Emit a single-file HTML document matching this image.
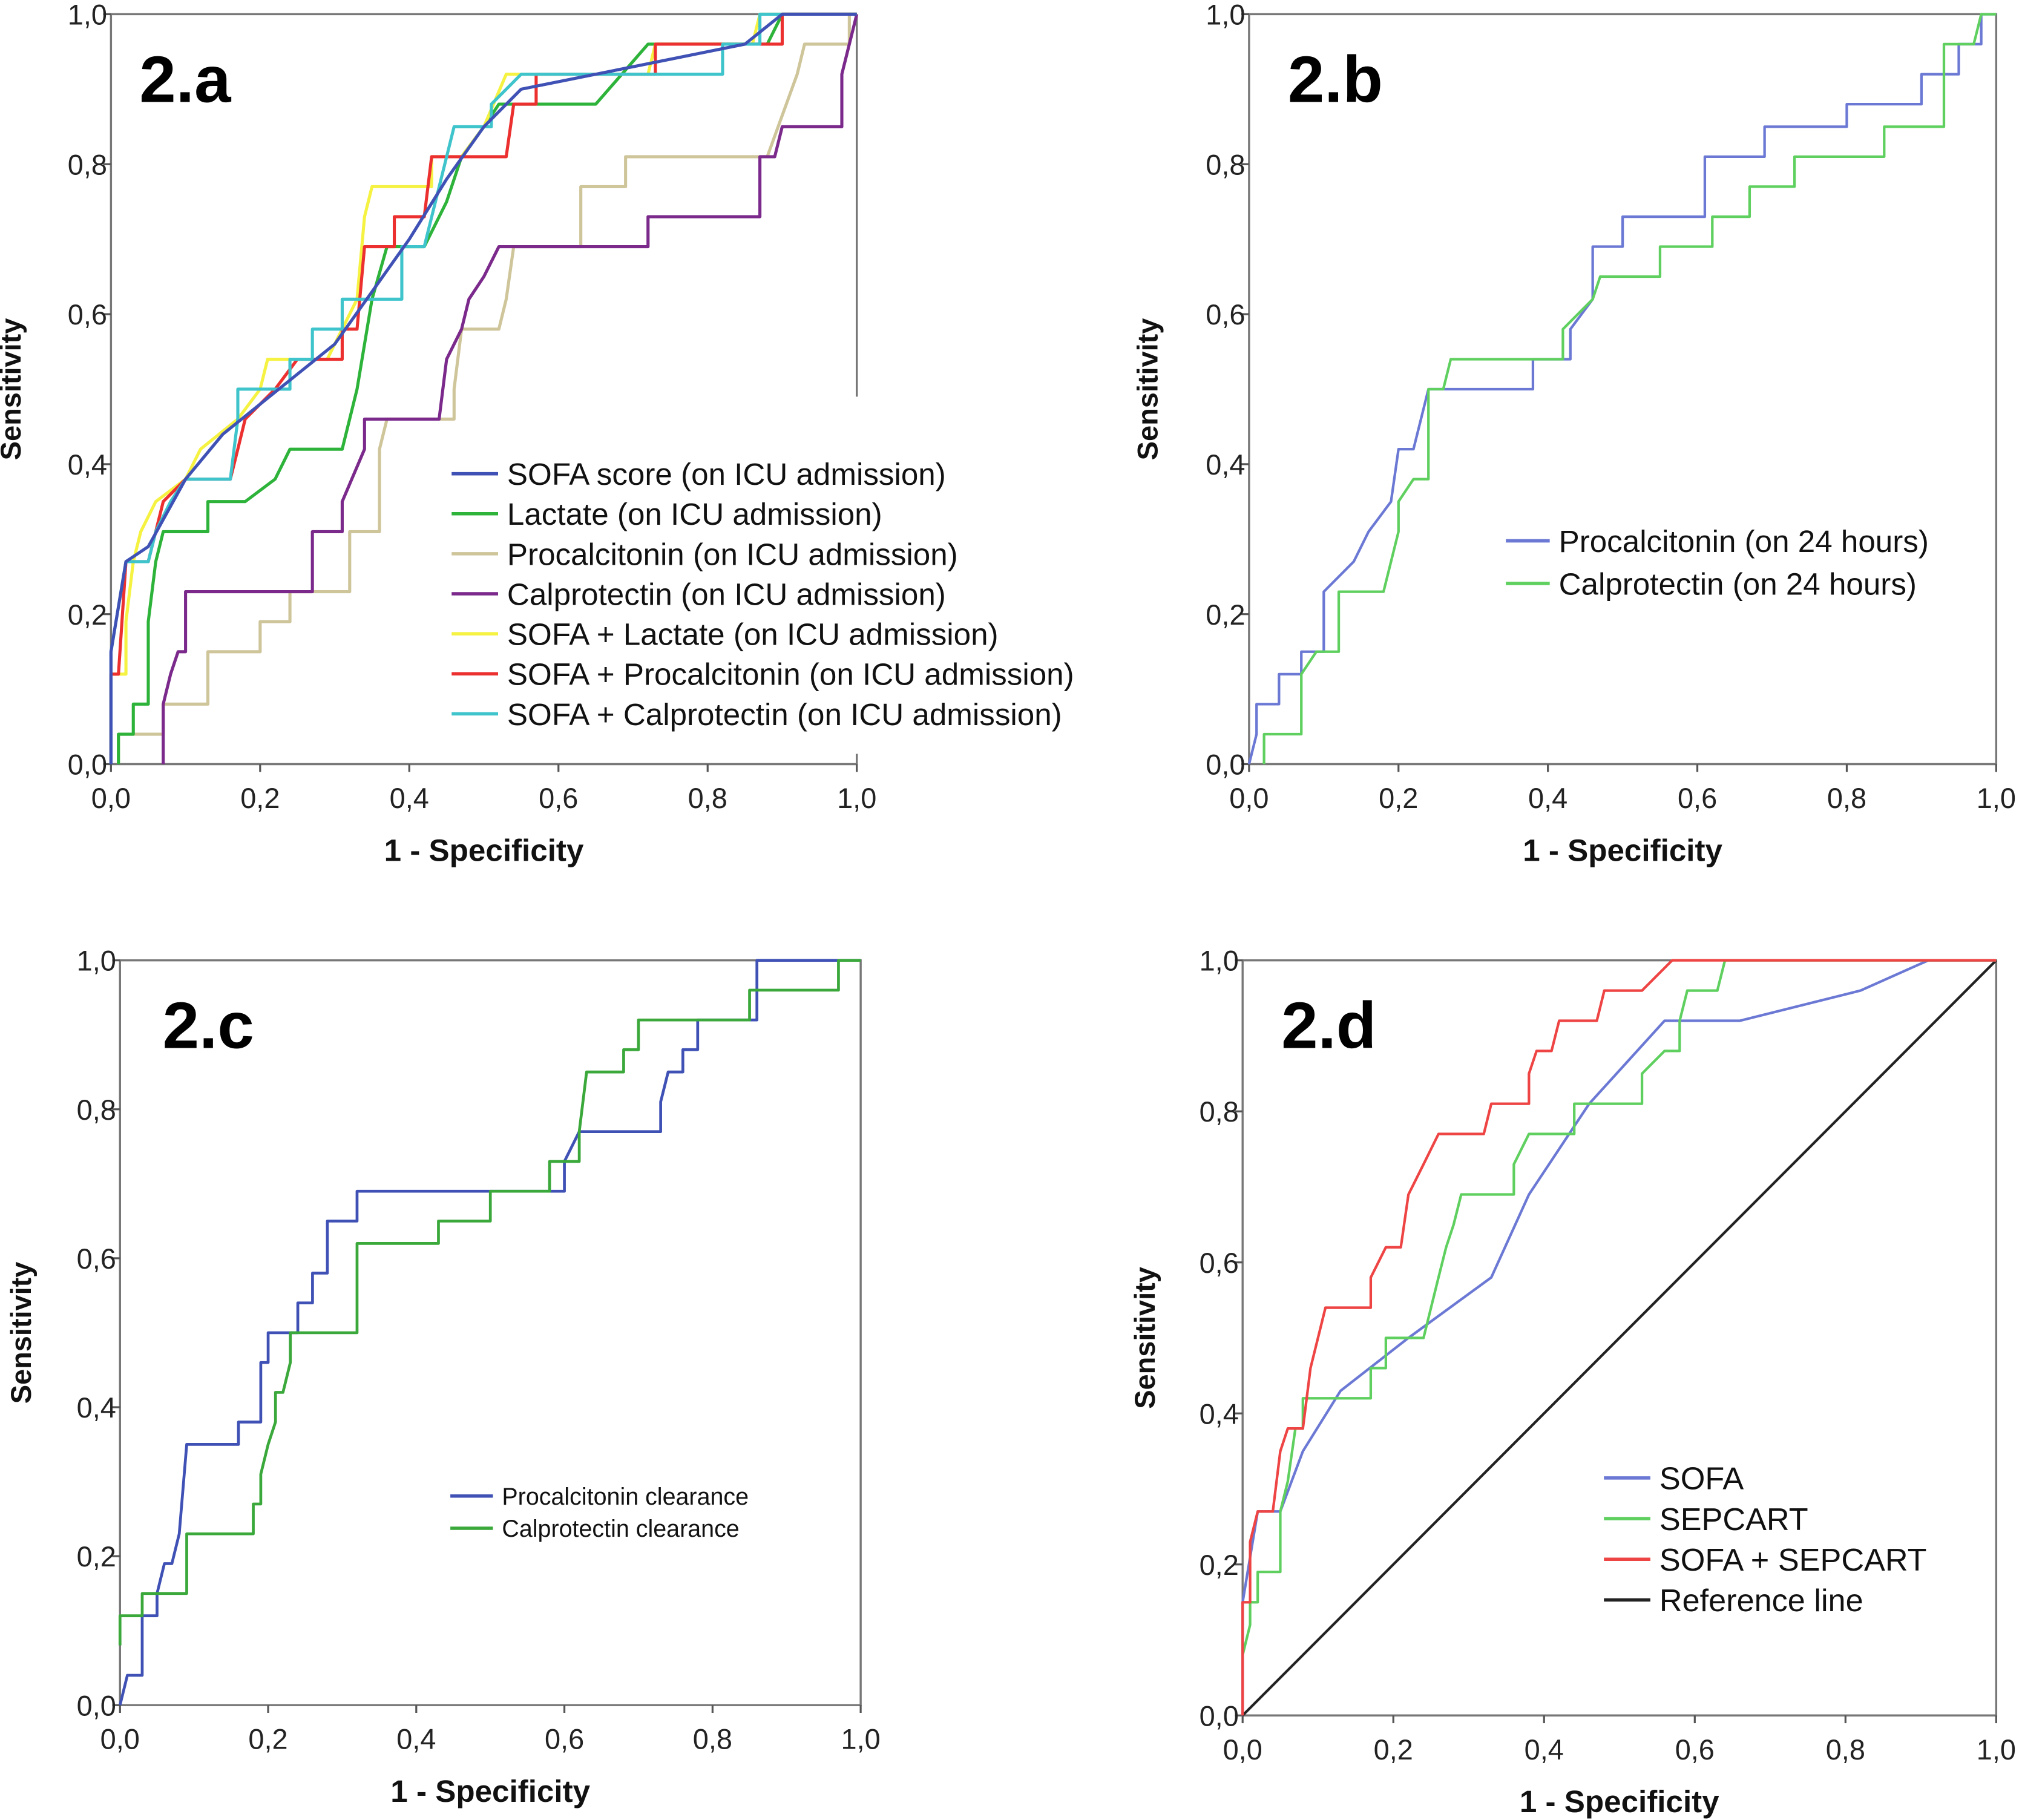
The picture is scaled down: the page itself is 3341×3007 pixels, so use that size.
<!DOCTYPE html>
<html><head><meta charset="utf-8"><style>
html,body{margin:0;padding:0;background:#fff}
svg{display:block}
text{font-family:"Liberation Sans",Arial,sans-serif}
</style></head><body>
<svg id="fig" width="3341" height="3007" viewBox="0 0 1567 1410" preserveAspectRatio="none" xmlns="http://www.w3.org/2000/svg"></svg>
<script>
const ticks=[0,0.2,0.4,0.6,0.8,1.0];
const tickLabels=["0,0","0,2","0,4","0,6","0,8","1,0"];
// Panel 2.a
const aSofa=[[0,0],[0,0.15],[0.02,0.27],[0.05,0.29],[0.1,0.38],[0.15,0.44],[0.2,0.48],[0.3,0.56],[0.35,0.63],[0.4,0.7],[0.45,0.78],[0.5,0.85],[0.55,0.9],[0.7,0.93],[0.85,0.96],[0.9,1],[1,1]];
const aLact=[[0.01,0],[0.01,0.04],[0.03,0.04],[0.03,0.08],[0.05,0.08],[0.05,0.19],[0.06,0.27],[0.07,0.31],[0.13,0.31],[0.13,0.35],[0.18,0.35],[0.22,0.38],[0.24,0.42],[0.31,0.42],[0.33,0.5],[0.35,0.62],[0.37,0.69],[0.42,0.69],[0.45,0.75],[0.47,0.81],[0.5,0.85],[0.52,0.88],[0.65,0.88],[0.72,0.96],[0.88,0.96],[0.9,1],[1,1]];
const aPct=[[0.01,0],[0.01,0.04],[0.07,0.04],[0.07,0.08],[0.13,0.08],[0.13,0.15],[0.2,0.15],[0.2,0.19],[0.24,0.19],[0.24,0.23],[0.32,0.23],[0.32,0.31],[0.36,0.31],[0.36,0.42],[0.37,0.46],[0.46,0.46],[0.46,0.5],[0.47,0.58],[0.52,0.58],[0.53,0.62],[0.54,0.69],[0.63,0.69],[0.63,0.77],[0.69,0.77],[0.69,0.81],[0.88,0.81],[0.92,0.92],[0.93,0.96],[0.99,0.96],[0.99,1],[1,1]];
const aCalp=[[0.07,0],[0.07,0.08],[0.08,0.12],[0.09,0.15],[0.1,0.15],[0.1,0.23],[0.27,0.23],[0.27,0.31],[0.31,0.31],[0.31,0.35],[0.34,0.42],[0.34,0.46],[0.44,0.46],[0.45,0.54],[0.47,0.58],[0.48,0.62],[0.5,0.65],[0.52,0.69],[0.72,0.69],[0.72,0.73],[0.87,0.73],[0.87,0.81],[0.89,0.81],[0.9,0.85],[0.98,0.85],[0.98,0.92],[1,1]];
const aSofaLact=[[0,0],[0,0.12],[0.02,0.12],[0.02,0.19],[0.03,0.27],[0.04,0.31],[0.06,0.35],[0.1,0.38],[0.12,0.42],[0.17,0.46],[0.2,0.5],[0.21,0.54],[0.29,0.54],[0.33,0.62],[0.34,0.73],[0.35,0.77],[0.43,0.77],[0.43,0.81],[0.47,0.81],[0.5,0.85],[0.53,0.92],[0.72,0.92],[0.73,0.96],[0.86,0.96],[0.87,1],[1,1]];
const aSofaPct=[[0,0],[0,0.12],[0.01,0.12],[0.02,0.27],[0.05,0.27],[0.07,0.35],[0.1,0.38],[0.16,0.38],[0.17,0.42],[0.18,0.46],[0.22,0.5],[0.25,0.54],[0.31,0.54],[0.31,0.58],[0.33,0.58],[0.34,0.69],[0.38,0.69],[0.38,0.73],[0.42,0.73],[0.43,0.81],[0.53,0.81],[0.54,0.88],[0.57,0.88],[0.57,0.92],[0.73,0.92],[0.73,0.96],[0.9,0.96],[0.9,1],[1,1]];
const aSofaCalp=[[0,0],[0,0.15],[0.02,0.27],[0.05,0.27],[0.06,0.31],[0.08,0.35],[0.1,0.38],[0.16,0.38],[0.17,0.46],[0.17,0.5],[0.24,0.5],[0.24,0.54],[0.27,0.54],[0.27,0.58],[0.31,0.58],[0.31,0.62],[0.39,0.62],[0.39,0.69],[0.42,0.69],[0.46,0.85],[0.51,0.85],[0.51,0.88],[0.55,0.92],[0.82,0.92],[0.82,0.96],[0.87,0.96],[0.87,1],[1,1]];
const aGrayRight=[[1,1],[1,0.49]];
// Panel 2.b
const bPct=[[0,0],[0.01,0.04],[0.01,0.08],[0.04,0.08],[0.04,0.12],[0.07,0.12],[0.07,0.15],[0.1,0.15],[0.1,0.23],[0.14,0.27],[0.16,0.31],[0.19,0.35],[0.2,0.42],[0.22,0.42],[0.24,0.5],[0.38,0.5],[0.38,0.54],[0.43,0.54],[0.43,0.58],[0.46,0.62],[0.46,0.69],[0.5,0.69],[0.5,0.73],[0.61,0.73],[0.61,0.81],[0.69,0.81],[0.69,0.85],[0.8,0.85],[0.8,0.88],[0.9,0.88],[0.9,0.92],[0.95,0.92],[0.95,0.96],[0.98,0.96],[0.98,1],[1,1]];
const bCalp=[[0.02,0],[0.02,0.04],[0.07,0.04],[0.07,0.12],[0.09,0.15],[0.12,0.15],[0.12,0.23],[0.18,0.23],[0.2,0.31],[0.2,0.35],[0.22,0.38],[0.24,0.38],[0.24,0.5],[0.26,0.5],[0.27,0.54],[0.42,0.54],[0.42,0.58],[0.46,0.62],[0.47,0.65],[0.55,0.65],[0.55,0.69],[0.62,0.69],[0.62,0.73],[0.67,0.73],[0.67,0.77],[0.73,0.77],[0.73,0.81],[0.85,0.81],[0.85,0.85],[0.93,0.85],[0.93,0.96],[0.97,0.96],[0.98,1],[1,1]];
// Panel 2.c
const cPct=[[0,0],[0.01,0.04],[0.03,0.04],[0.03,0.12],[0.05,0.12],[0.05,0.15],[0.06,0.19],[0.07,0.19],[0.08,0.23],[0.09,0.35],[0.16,0.35],[0.16,0.38],[0.19,0.38],[0.19,0.46],[0.2,0.46],[0.2,0.5],[0.24,0.5],[0.24,0.54],[0.26,0.54],[0.26,0.58],[0.28,0.58],[0.28,0.65],[0.32,0.65],[0.32,0.69],[0.6,0.69],[0.6,0.73],[0.62,0.77],[0.73,0.77],[0.73,0.81],[0.74,0.85],[0.76,0.85],[0.76,0.88],[0.78,0.88],[0.78,0.92],[0.86,0.92],[0.86,1],[1,1]];
const cCalp=[[0,0.08],[0,0.12],[0.03,0.12],[0.03,0.15],[0.09,0.15],[0.09,0.23],[0.18,0.23],[0.18,0.27],[0.19,0.27],[0.19,0.31],[0.2,0.35],[0.21,0.38],[0.21,0.42],[0.22,0.42],[0.23,0.46],[0.23,0.5],[0.32,0.5],[0.32,0.62],[0.43,0.62],[0.43,0.65],[0.5,0.65],[0.5,0.69],[0.58,0.69],[0.58,0.73],[0.62,0.73],[0.62,0.77],[0.63,0.85],[0.68,0.85],[0.68,0.88],[0.7,0.88],[0.7,0.92],[0.85,0.92],[0.85,0.96],[0.97,0.96],[0.97,1],[1,1]];
// Panel 2.d
const dSofa=[[0,0],[0,0.15],[0.02,0.27],[0.05,0.27],[0.08,0.35],[0.13,0.43],[0.22,0.5],[0.33,0.58],[0.38,0.69],[0.46,0.81],[0.56,0.92],[0.66,0.92],[0.82,0.96],[0.91,1],[1,1]];
const dSep=[[0,0.08],[0.01,0.12],[0.01,0.15],[0.02,0.15],[0.02,0.19],[0.05,0.19],[0.05,0.27],[0.06,0.31],[0.07,0.38],[0.08,0.38],[0.08,0.42],[0.17,0.42],[0.17,0.46],[0.19,0.46],[0.19,0.5],[0.24,0.5],[0.26,0.58],[0.27,0.62],[0.28,0.65],[0.29,0.69],[0.36,0.69],[0.36,0.73],[0.38,0.77],[0.44,0.77],[0.44,0.81],[0.53,0.81],[0.53,0.85],[0.56,0.88],[0.58,0.88],[0.58,0.92],[0.59,0.96],[0.63,0.96],[0.64,1],[1,1]];
const dBoth=[[0,0],[0,0.15],[0.01,0.15],[0.01,0.23],[0.02,0.27],[0.04,0.27],[0.05,0.35],[0.06,0.38],[0.08,0.38],[0.09,0.46],[0.1,0.5],[0.11,0.54],[0.17,0.54],[0.17,0.58],[0.19,0.62],[0.21,0.62],[0.22,0.69],[0.24,0.73],[0.26,0.77],[0.32,0.77],[0.33,0.81],[0.38,0.81],[0.38,0.85],[0.39,0.88],[0.41,0.88],[0.42,0.92],[0.47,0.92],[0.48,0.96],[0.53,0.96],[0.57,1],[1,1]];
const dRef=[[0,0],[1,1]];

const NS="http://www.w3.org/2000/svg";
const svg=document.getElementById('fig');
function mk(tag,attrs,parent,txt){const e=document.createElementNS(NS,tag);for(const k in attrs)e.setAttribute(k,attrs[k]);if(txt!==undefined)e.textContent=txt;(parent||svg).appendChild(e);return e;}

function panel(id,box,label,series,legend,openRight){
  const [x0,x1,yTop,yBot,ylabX,legX,legY0,legDy,legFont,legLen]=box;
  const g=mk('g',{});
  
  
  const sx=v=>x0+v*(x1-x0), sy=v=>yBot-v*(yBot-yTop);
  let fd=openRight?`M${x1},${yTop}L${x0},${yTop}L${x0},${yBot}L${x1},${yBot}L${x1},${yBot-8}`:`M${x0},${yTop}H${x1}V${yBot}H${x0}Z`;
  const fr=mk('path',{d:fd,fill:'none',stroke:'#777','stroke-width':1.6},g);
  
  
  ticks.forEach((t,i)=>{
    const xt=mk('line',{x1:sx(t),x2:sx(t),y1:yBot,y2:yBot+6,stroke:'#555','stroke-width':1.5},g);
    
    
    const xl=mk('text',{x:sx(t),y:yBot+34,'text-anchor':'middle','font-size':22,fill:'#222'},g,tickLabels[i]);
    
    
    const yt=mk('line',{x1:x0-6,x2:x0,y1:sy(t),y2:sy(t),stroke:'#555','stroke-width':1.5},g);
    
    
    const yl=mk('text',{x:x0-3,y:sy(t)+8,'text-anchor':'end','font-size':22,fill:'#222'},g,tickLabels[i]);
    
    
  });
  const xa=mk('text',{x:(x0+x1)/2,y:yBot+75,'text-anchor':'middle','font-size':24,'font-weight':'bold',fill:'#111'},g,'1 - Specificity');
  
  
  const ya=mk('text',{x:0,y:0,'text-anchor':'middle','font-size':22,'font-weight':'bold',fill:'#111',transform:`translate(${ylabX+2},${(yTop+yBot)/2}) rotate(-90)`},g,'Sensitivity');
  
  
  series.forEach(s=>{
    const d=s.data.map((p,i)=>(i?'L':'M')+sx(p[0]).toFixed(1)+','+sy(p[1]).toFixed(1)).join('');
    const p=mk('path',{d:d,fill:'none',stroke:s.color,'stroke-width':s.w||2.4,'stroke-linejoin':'round'},g);
    
    
  });
  const pl=mk('text',{x:x0+(id==='c'?33:id==='a'?22:30),y:yTop+68,'font-size':51,'font-weight':'bold',fill:'#000'},g,label);
  
  
  legend.forEach((l,i)=>{
    const y=legY0+i*legDy;
    const ll=mk('line',{x1:legX,x2:legX+legLen,y1:y,y2:y,stroke:l.color,'stroke-width':2.6},g);
    
    
    const lt=mk('text',{x:legX+legLen+7,y:y+legFont*0.36,'font-size':legFont,fill:'#111'},g,l.label);
    
    
  });
}

const C={blue:'#3f51b5',green:'#2db33a',tan:'#cfc59a',purple:'#7b2a8c',yellow:'#f5f242',red:'#ec3030',cyan:'#3fc4cc',lblue:'#6b79d4',lgreen:'#5fd05f'};
panel('a',[86,664,11,592,14,350,367,31,24,36],'2.a',[
 {name:'right-edge-line',data:aGrayRight,color:'#777',w:1.6},
 {name:'series-procalcitonin',data:aPct,color:C.tan},
 {name:'series-calprotectin',data:aCalp,color:C.purple},
 {name:'series-lactate',data:aLact,color:C.green},
 {name:'series-sofa-lactate',data:aSofaLact,color:C.yellow},
 {name:'series-sofa-procalcitonin',data:aSofaPct,color:C.red},
 {name:'series-sofa-calprotectin',data:aSofaCalp,color:C.cyan},
 {name:'series-sofa',data:aSofa,color:C.blue}
],[
 {color:C.blue,label:'SOFA score (on ICU admission)'},
 {color:C.green,label:'Lactate (on ICU admission)'},
 {color:C.tan,label:'Procalcitonin (on ICU admission)'},
 {color:C.purple,label:'Calprotectin (on ICU admission)'},
 {color:C.yellow,label:'SOFA + Lactate (on ICU admission)'},
 {color:C.red,label:'SOFA + Procalcitonin (on ICU admission)'},
 {color:C.cyan,label:'SOFA + Calprotectin (on ICU admission)'}
],true);
panel('b',[968,1547,11,592,895,1167,419,33,24,34],'2.b',[
 {name:'series-procalcitonin-24h',data:bPct,color:C.lblue,w:2},
 {name:'series-calprotectin-24h',data:bCalp,color:C.lgreen,w:2}
],[
 {color:C.lblue,label:'Procalcitonin (on 24 hours)'},
 {color:C.lgreen,label:'Calprotectin (on 24 hours)'}
]);
panel('c',[93,667,744,1321,22,349,1159,25,18.5,33],'2.c',[
 {name:'series-procalcitonin-clearance',data:cPct,color:'#3f51b5',w:2.2},
 {name:'series-calprotectin-clearance',data:cCalp,color:'#3aa83a',w:2.2}
],[
 {color:'#3f51b5',label:'Procalcitonin clearance'},
 {color:'#3aa83a',label:'Calprotectin clearance'}
]);
panel('d',[963,1547,744,1329,893,1243,1145,31.5,24.5,36],'2.d',[
 {name:'series-reference-line',data:dRef,color:'#222',w:2},
 {name:'series-sofa',data:dSofa,color:C.lblue,w:2},
 {name:'series-sepcart',data:dSep,color:C.lgreen,w:2},
 {name:'series-sofa-sepcart',data:dBoth,color:'#ee4444',w:2}
],[
 {color:C.lblue,label:'SOFA'},
 {color:C.lgreen,label:'SEPCART'},
 {color:'#ee4444',label:'SOFA + SEPCART'},
 {color:'#222',label:'Reference line'}
]);
</script>
</body></html>
